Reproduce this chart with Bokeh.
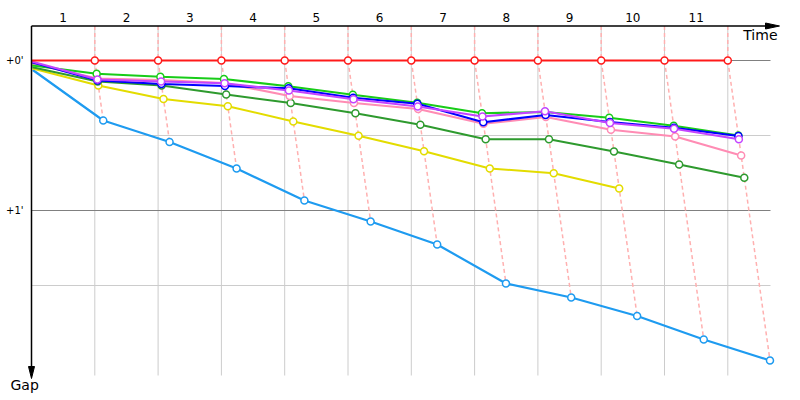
from bokeh.plotting import figure
from bokeh.models import Range1d, ColumnDataSource
from bokeh.core.properties import value
from bokeh.embed import file_html
from bokeh.resources import INLINE

# ---------------- data ----------------
checkpoint_labels = ["1", "2", "3", "4", "5", "6", "7", "8", "9", "10", "11"]
leader_split_min = 3          # leader reaches a checkpoint every 3 minutes
gap_tick_seconds = [0, 60]
gap_tick_labels = ["+0'", "+1'"]
half_minute_lines = [30, 90]

# gaps in seconds behind the leader at start (cp 0) and checkpoints 1..11
gap_red = [0, 0, 0, 0, 0, 0, 0, 0, 0, 0, 0, 0]
gap_lightblue = [3.8, 24.0, 32.6, 43.2, 56.0, 64.4, 73.6, 89.2, 94.8, 102.2, 111.6, 120.0]
gap_yellow = [3.2, 10.0, 15.4, 18.3, 24.4, 30.1, 36.3, 43.2, 45.1, 51.2]
gap_darkgreen = [2.7, 8.4, 10.0, 13.6, 17.0, 21.1, 25.7, 31.5, 31.5, 36.4, 41.6, 46.9]
gap_pink = [1.2, 7.2, 7.8, 9.0, 14.2, 17.0, 19.4, 25.3, 22.6, 27.7, 30.4, 38.0]
gap_green = [2.0, 5.3, 6.5, 7.4, 10.3, 13.7, 16.9, 21.1, 20.6, 22.9, 26.1, 30.0]
gap_blue = [0.7, 8.0, 9.4, 10.2, 11.1, 14.9, 17.3, 24.7, 21.8, 24.6, 26.9, 30.2]
gap_purple = [0.4, 7.6, 8.4, 9.1, 12.0, 15.5, 18.4, 22.4, 20.3, 25.0, 27.3, 31.5]

riders = [
    (gap_lightblue, "#1e9bf0", 2.2),
    (gap_yellow, "#e3dc00", 2.0),
    (gap_darkgreen, "#2e9a2e", 2.0),
    (gap_pink, "#ff8cb4", 2.2),
    (gap_green, "#18cc18", 2.2),
    (gap_blue, "#0000ff", 2.2),
    (gap_purple, "#c444ff", 2.2),
    (gap_red, "#ff1a1a", 2.2),
]

# ---------------- geometry ----------------
PX_PER_MIN = 21.1
X0_PX = 31
PX_PER_SEC = 2.5
Y0_PX = 60


def px_x(px):
    return (px - X0_PX) / PX_PER_MIN


def px_y(py):
    return (py - Y0_PX) / PX_PER_SEC


W, H = 800, 400
p = figure(width=W, height=H, output_backend="svg", toolbar_location=None,
           x_range=Range1d(px_x(0), px_x(W)), y_range=Range1d(px_y(H), px_y(0)),
           x_axis_location=None, y_axis_location=None, min_border=0,
           outline_line_color=None, background_fill_color="white")
p.grid.visible = False

TOP = px_y(25.5)
BOTTOM_GRID = px_y(375)
RIGHT_GRID = px_x(770)
n_cp = len(checkpoint_labels)
cp_x = [leader_split_min * (i + 1) for i in range(n_cp)]

# vertical grid lines at leader checkpoint times
p.multi_line(xs=[[x, x] for x in cp_x], ys=[[TOP, BOTTOM_GRID]] * n_cp,
             line_color="#cccccc", line_width=1)
# horizontal lines
p.multi_line(xs=[[0, RIGHT_GRID]] * len(half_minute_lines),
             ys=[[g, g] for g in half_minute_lines], line_color="#cccccc", line_width=1)
p.multi_line(xs=[[0, RIGHT_GRID]] * len(gap_tick_seconds),
             ys=[[g, g] for g in gap_tick_seconds], line_color="#808080", line_width=1)


def rider_xy(gaps):
    xs = [leader_split_min * i + g / 60.0 for i, g in enumerate(gaps)]
    return xs, list(gaps)


# dashed connectors per checkpoint
dxs, dys = [], []
for k in range(1, n_cp + 1):
    pts = []
    for gaps, _, _ in riders:
        if len(gaps) > k:
            pts.append((leader_split_min * k + gaps[k] / 60.0, gaps[k]))
    pts.sort(key=lambda t: t[1])
    dxs.append([leader_split_min * k] + [t[0] for t in pts])
    dys.append([TOP] + [t[1] for t in pts])
p.multi_line(xs=dxs, ys=dys, line_color="#ffb0b0", line_width=1.5, line_dash="4 3")

# rider lines
for gaps, color, lw in riders:
    xs, ys = rider_xy(gaps)
    p.line(xs, ys, line_color=color, line_width=lw)
    p.scatter(xs[1:], ys[1:], marker="circle", size=7, fill_color="white",
              line_color=color, line_width=1.5)

# axes with arrows
p.line([0, px_x(768)], [TOP, TOP], line_color="black", line_width=1.5)
p.patch([px_x(765), px_x(779), px_x(765)], [px_y(22.5), TOP, px_y(28.5)],
        fill_color="black", line_color="black")
p.line([0, 0], [TOP, px_y(368)], line_color="black", line_width=1.5)
p.patch([px_x(28), 0, px_x(34)], [px_y(366), px_y(378), px_y(366)],
        fill_color="black", line_color="black")

# checkpoint labels (centered between checkpoints)
lab_src = ColumnDataSource(dict(x=[x - leader_split_min / 2 for x in cp_x],
                                y=[px_y(17)] * n_cp, t=checkpoint_labels))
p.text(x="x", y="y", text="t", source=lab_src, text_font=value("DejaVu Sans"),
       text_font_size="12px", text_align="center", text_baseline="middle",
       text_color="black")

# gap tick labels
tick_src = ColumnDataSource(dict(x=[px_x(23)] * len(gap_tick_seconds),
                                 y=gap_tick_seconds, t=gap_tick_labels))
p.text(x="x", y="y", text="t", source=tick_src, text_font=value("DejaVu Sans"),
       text_font_size="10px", text_align="right", text_baseline="middle",
       text_color="black")

p.text(x=[px_x(777)], y=[px_y(34)], text=["Time"], text_font=value("DejaVu Sans"),
       text_font_size="14px", text_align="right", text_baseline="middle",
       text_color="black")
p.text(x=[px_x(10)], y=[px_y(384)], text=["Gap"], text_font=value("DejaVu Sans"),
       text_font_size="14px", text_align="left", text_baseline="middle",
       text_color="black")

open("out.html", "w").write(file_html(p, INLINE))
